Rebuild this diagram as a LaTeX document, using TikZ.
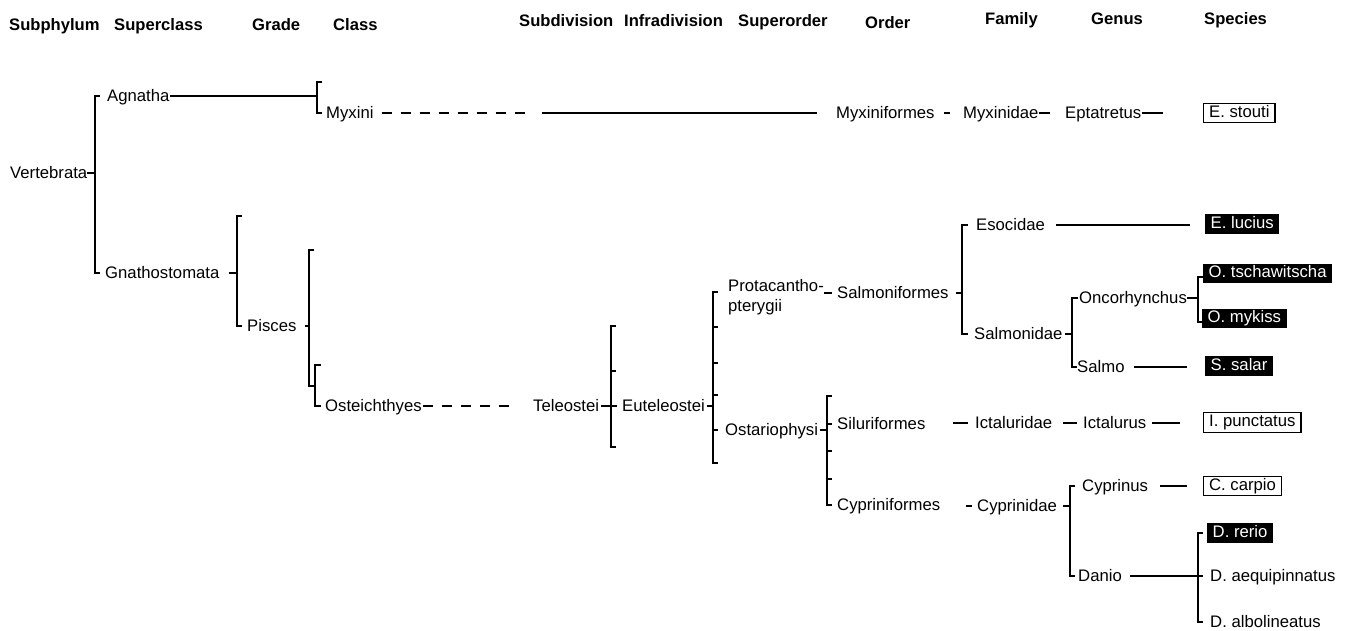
\documentclass[tikz,border=0pt]{standalone}
\usepackage{fontspec}
\setmainfont{Liberation Sans}
\usetikzlibrary{calc}
\begin{document}
\begin{tikzpicture}[x=1pt,y=-1pt,
  lbl/.style={font=\fontsize{16.7}{18}\selectfont, inner sep=0pt, anchor=west, text height=11.7pt, text depth=0pt},
  hdr/.style={lbl, font=\fontsize{16.6}{18}\selectfont\bfseries},
  bbox/.style={lbl, fill=black, text=white, inner xsep=5.5pt, inner ysep=2pt, text height=12pt, text depth=3.5pt},
  wbox/.style={lbl, draw=black, line width=1.3pt, inner xsep=5.5pt, inner ysep=2pt, text height=12pt, text depth=3.5pt},
  ln/.style={line width=1.3pt},
  dsh/.style={line width=1.3pt, dash pattern=on 10pt off 9pt},
  br/.style={line width=1.8pt, line join=miter}
]
\useasboundingbox (0,0) rectangle (1354,631);

% headers
\node[hdr] (hSub) at (9,25) {Subphylum};
\node[hdr] (hSup) at (114,25) {Superclass};
\node[hdr] (hGr) at (252,25) {Grade};
\node[hdr] (hCl) at (333,25) {Class};
\node[hdr] (hSd) at (519,21) {Subdivision};
\node[hdr] (hId) at (624,21) {Infradivision};
\node[hdr] (hSo) at (738,21) {Superorder};
\node[hdr] (hOr) at (865,23) {Order};
\node[hdr] (hFa) at (985,19) {Family};
\node[hdr] (hGe) at (1091,19) {Genus};
\node[hdr] (hSp) at (1204,19) {Species};

% taxa
\node[lbl] (vert) at (10,173) {Vertebrata};
\node[lbl] (agn) at (107,96) {Agnatha};
\node[lbl] (gna) at (105,273) {Gnathostomata};
\node[lbl] (myx) at (326,113) {Myxini};
\node[lbl] (pis) at (247,326) {Pisces};
\node[lbl] (ost) at (325,406) {Osteichthyes};
\node[lbl] (tel) at (533,406) {Teleostei};
\node[lbl] (eut) at (622,406) {Euteleostei};
\node[lbl] (pro1) at (728,286) {Protacantho-};
\node[lbl] (pro2) at (728,306) {pterygii};
\node[lbl] (osr) at (725,430) {Ostariophysi};
\node[lbl] (mxf) at (836,113) {Myxiniformes};
\node[lbl] (sal) at (837,293) {Salmoniformes};
\node[lbl] (sil) at (837,424) {Siluriformes};
\node[lbl] (cyf) at (837,505) {Cypriniformes};
\node[lbl] (mxd) at (963,113) {Myxinidae};
\node[lbl] (esd) at (976,225) {Esocidae};
\node[lbl] (smd) at (974,334) {Salmonidae};
\node[lbl] (ict) at (975,423) {Ictaluridae};
\node[lbl] (cyd) at (977,506) {Cyprinidae};
\node[lbl] (ept) at (1065,113) {Eptatretus};
\node[lbl] (onc) at (1079,298) {Oncorhynchus};
\node[lbl] (slm) at (1077,367) {Salmo};
\node[lbl] (icu) at (1083,423) {Ictalurus};
\node[lbl] (cyp) at (1082,486) {Cyprinus};
\node[lbl] (dan) at (1078,576) {Danio};

% species
\node[wbox] (est) at (1203,113) {E. stouti};
\node[bbox] (elu) at (1205,224) {E. lucius};
\node[bbox] (ots) at (1203,273.5) {O. tschawitscha};
\node[bbox] (omy) at (1202,318.5) {O. mykiss};
\node[bbox] (ssa) at (1205,366) {S. salar};
\node[wbox] (ipu) at (1203,422.5) {I. punctatus};
\node[wbox] (cca) at (1203,486) {C. carpio};
\node[bbox] (dre) at (1207,533) {D. rerio};
\node[lbl] (daq) at (1210,576) {D. aequipinnatus};
\node[lbl] (dal) at (1210,622) {D. albolineatus};

% bracket x positions
\coordinate (bV) at (95,0);
\coordinate (bMx) at (317,0);
\coordinate (bG) at (237,0);
\coordinate (bP) at (309,0);
\coordinate (bO) at (315,0);
\coordinate (bT) at (611,0);
\coordinate (bE) at (713,0);
\coordinate (bS) at (962,0);
\coordinate (bSm) at (1072,0);
\coordinate (bOn) at (1198,0);
\coordinate (bOs) at (827,0);
\coordinate (bCy) at (1070,0);
\coordinate (bD) at (1198,0);
\coordinate (mxd1) at (527,113);
\coordinate (mxs) at (542,113);

% Vertebrata
\draw[br] (vert.east) -- (bV |- vert.east);
\draw[br] (bV |- agn.west) ++(5,0) -- ++(-5,0) -- (bV |- gna.west) -- ++(5,0);
% Agnatha - Myxini
\draw[ln] (agn.east) -- (bMx |- agn.east);
\draw[br] (322,82) -- (317,82) -- (bMx |- myx.west) -- ++(5,0);
\draw[dsh] ([xshift=8pt]myx.east) -- (mxd1);
\draw[ln] (mxs) -- ([xshift=-19pt]mxf.west);
\draw[ln, shorten <=9pt, shorten >=13pt] (mxf.east) -- (mxd.west);
\draw[ln, shorten >=15pt] (mxd.east) -- (ept.west);
\draw[ln, shorten >=40pt] (ept.east) -- (est.west |- ept.east);
% Gnathostomata
\draw[br] ([xshift=9pt]gna.east) -- (bG |- gna.east);
\draw[br] (242,216) -- (237,216) -- (bG |- pis.west) -- ++(5,0);
% Pisces
\draw[br] ([xshift=8pt]pis.east) -- (bP |- pis.east);
\draw[br] (314,250) -- (309,250) -- (309,386) -- (315,386);
% Osteichthyes
\draw[br] (321,365) -- (315,365) -- (bO |- ost.west) -- ++(6,0);
\draw[dsh] ([xshift=1pt]ost.east) -- ([xshift=-20pt]tel.west);
% Teleostei
\draw[br] ([xshift=2pt]tel.east) -- ([xshift=-5pt]eut.west);
\draw[br] (616,326) -- (611,326) -- (611,447) -- (616,447);
\draw[br] (611,371) -- (616,371);
% Euteleostei
\draw[br] ([xshift=2pt]eut.east) -- (bE |- eut.east);
\draw[br] (718,292) -- (713,292) -- (713,463) -- (718,463);
\foreach \yy in {327,363,395} \draw[br] (713,\yy) -- (718,\yy);
\draw[br] (bE |- osr.west) -- ++(5,0);
% Protacanthopterygii - Salmoniformes
\draw[ln] (pro1.east |- sal.west) -- ([xshift=-5pt]sal.west);
\draw[br] ([xshift=7pt]sal.east) -- (bS |- sal.east);
\draw[br] (bS |- esd.west) ++(6,0) -- ++(-6,0) -- (bS |- smd.west) -- ++(6,0);
\draw[ln, shorten <=11pt, shorten >=15pt] (esd.east) -- (elu.west |- esd.east);
% Salmonidae
\draw[br] ([xshift=2pt]smd.east) -- (bSm |- smd.east);
\draw[br] (bSm |- onc.west) ++(6,0) -- ++(-6,0) -- (bSm |- slm.west) -- ++(5,0);
\draw[br] (onc.east) -- (bOn |- onc.east);
\draw[br] (1203,277) -- (bOn |- 0,277) -- (bOn |- 0,322) -- (1203,322);
\draw[ln, shorten <=9pt, shorten >=18pt] (slm.east) -- (ssa.west |- slm.east);
% Ostariophysi
\draw[br] ([xshift=2pt]osr.east) -- (bOs |- osr.east);
\draw[br] (832,396) -- (827,396) -- (bOs |- cyf.west) -- ++(5,0);
\draw[br] (bOs |- sil.west) -- ++(5,0);
\foreach \yy in {451,479} \draw[br] (827,\yy) -- (832,\yy);
% Siluriformes
\draw[ln] ([xshift=-22pt]ict.west) -- ([xshift=-7pt]ict.west);
\draw[ln] ([xshift=-20pt]icu.west) -- ([xshift=-6pt]icu.west);
\draw[ln, shorten <=5pt, shorten >=23pt] (icu.east) -- (ipu.west |- icu.east);
% Cypriniformes
\draw[ln] ([xshift=-11pt]cyd.west) -- ([xshift=-5pt]cyd.west);
\draw[br] ([xshift=6pt]cyd.east) -- (bCy |- cyd.east);
\draw[br] (bCy |- cyp.west) ++(5,0) -- ++(-5,0) -- (bCy |- dan.west) -- ++(5,0);
\draw[ln, shorten <=12pt, shorten >=16pt] (cyp.east) -- (cca.west |- cyp.east);
\draw[ln] ([xshift=8pt]dan.east) -- (bD |- dan.east);
\draw[br] (bD |- dre.west) ++(5,0) -- ++(-5,0) -- (bD |- dal.west) -- ++(5,0);
\draw[br] (bD |- daq.west) -- ++(5,0);
\end{tikzpicture}
\end{document}
